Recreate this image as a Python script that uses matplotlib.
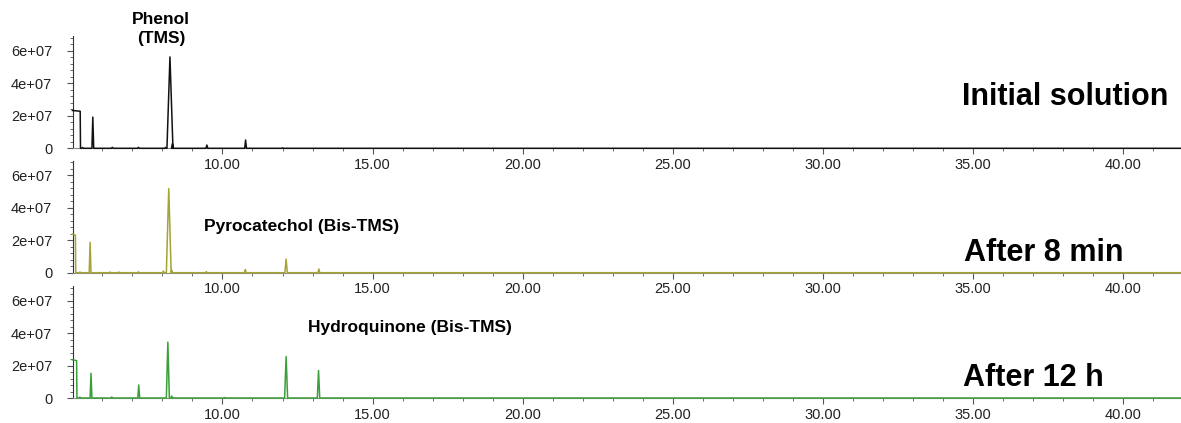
import matplotlib
matplotlib.use('Agg')
import matplotlib.pyplot as plt
from matplotlib.ticker import FixedLocator, MultipleLocator, FuncFormatter

plt.rcParams['font.family'] = ['Liberation Sans', 'DejaVu Sans']

# retention time (min), peak height (counts) and peak half width (min) per run
solvent_end = [5.26, 5.10, 5.14]
solvent_height = [2.33e7, 2.37e7, 2.35e7]

initial_times = [5.34, 5.68, 6.33, 7.20, 8.10, 8.25, 8.33, 9.48, 10.77, 12.00]
initial_heights = [0.05e7, 1.92e7, 0.06e7, 0.06e7, 0.05e7, 5.63e7, 0.28e7, 0.2e7, 0.51e7, 0.03e7]
initial_widths = [0.03, 0.03, 0.03, 0.03, 0.03, 0.1, 0.03, 0.03, 0.03, 0.03]

min8_times = [5.25, 5.59, 6.25, 6.55, 7.20, 8.03, 8.21, 8.31, 9.46, 10.76, 12.12, 13.21]
min8_heights = [0.04e7, 1.87e7, 0.04e7, 0.04e7, 0.05e7, 0.1e7, 5.18e7, 0.15e7, 0.06e7, 0.2e7, 0.84e7, 0.23e7]
min8_widths = [0.03, 0.03, 0.03, 0.03, 0.03, 0.03, 0.08, 0.03, 0.03, 0.03, 0.04, 0.03]

h12_times = [5.25, 5.62, 6.31, 7.21, 8.18, 8.31, 10.07, 12.12, 13.20]
h12_heights = [0.05e7, 1.52e7, 0.06e7, 0.8e7, 3.44e7, 0.12e7, 0.03e7, 2.55e7, 1.69e7]
h12_widths = [0.03, 0.03, 0.03, 0.03, 0.05, 0.03, 0.03, 0.05, 0.04]

x_major = [10, 15, 20, 25, 30, 35, 40]
y_major = [0, 2e7, 4e7, 6e7]

colors = ['#111111', '#a3a336', '#3a9e3a']


def make_trace(end, sol_h, times, heights, widths):
    xs = [5.0, end, end + 0.01]
    ys = [sol_h, sol_h * 0.98, 0]
    for t, h, w in zip(times, heights, widths):
        xs += [t - w, t, t + w]
        ys += [0, h, 0]
    xs.append(42.0)
    ys.append(0)
    return xs, ys


def y_label(v, pos):
    if v == 0:
        return '0'
    return '%.0e' % v


fig = plt.figure(figsize=(11.81, 4.23), dpi=100)

runs = [
    (initial_times, initial_heights, initial_widths),
    (min8_times, min8_heights, min8_widths),
    (h12_times, h12_heights, h12_widths),
]
bottoms = [1 - 148.3 / 423, 1 - 272.7 / 423, 1 - 398 / 423]

for i in range(3):
    ax = fig.add_axes([73 / 1181, bottoms[i], 1107 / 1181, 112 / 423])
    times, heights, widths = runs[i]
    xs, ys = make_trace(solvent_end[i], solvent_height[i], times, heights, widths)
    ax.plot(xs, ys, color=colors[i], lw=1.1, clip_on=False, zorder=5)

    ax.set_xlim(5.02, 41.9)
    ax.set_ylim(0, 6.9e7)
    for s in ['top', 'right']:
        ax.spines[s].set_visible(False)
    ax.spines['left'].set_color('#333333')
    ax.spines['bottom'].set_color('#8c8c8c')
    ax.xaxis.set_major_locator(FixedLocator(x_major))
    ax.xaxis.set_minor_locator(MultipleLocator(1))
    ax.xaxis.set_major_formatter(FuncFormatter(lambda v, p: '%.2f' % v))
    ax.yaxis.set_major_locator(FixedLocator(y_major))
    ax.yaxis.set_minor_locator(MultipleLocator(4e6))
    ax.yaxis.set_major_formatter(FuncFormatter(y_label))
    ax.tick_params(axis='both', which='major', length=4, width=0.8,
                   color='#555555', labelsize=10.5, labelcolor='#222222', pad=3)
    ax.tick_params(axis='both', which='minor', length=2, width=0.6, color='#555555')
    ax.tick_params(axis='y', pad=11)
    ax.patch.set_alpha(0)

fig.text(161 / 1181, 1 - 29 / 423, 'Phenol\n(TMS)', ha='center', va='center',
         fontsize=12.5, fontweight='bold', linespacing=1.35)
fig.text(302 / 1181, 1 - 226 / 423, 'Pyrocatechol (Bis-TMS)', ha='center', va='center',
         fontsize=12.5, fontweight='bold')
fig.text(409.5 / 1181, 1 - 327 / 423, 'Hydroquinone (Bis-TMS)', ha='center', va='center',
         fontsize=12.5, fontweight='bold')
fig.text(1168 / 1181, 1 - 97 / 423, 'Initial solution', ha='right', va='center',
         fontsize=22, fontweight='bold')
fig.text(1123 / 1181, 1 - 253 / 423, 'After 8 min', ha='right', va='center',
         fontsize=22, fontweight='bold')
fig.text(1104 / 1181, 1 - 378 / 423, 'After 12 h', ha='right', va='center',
         fontsize=22, fontweight='bold')

plt.savefig('out.png', dpi=100)
